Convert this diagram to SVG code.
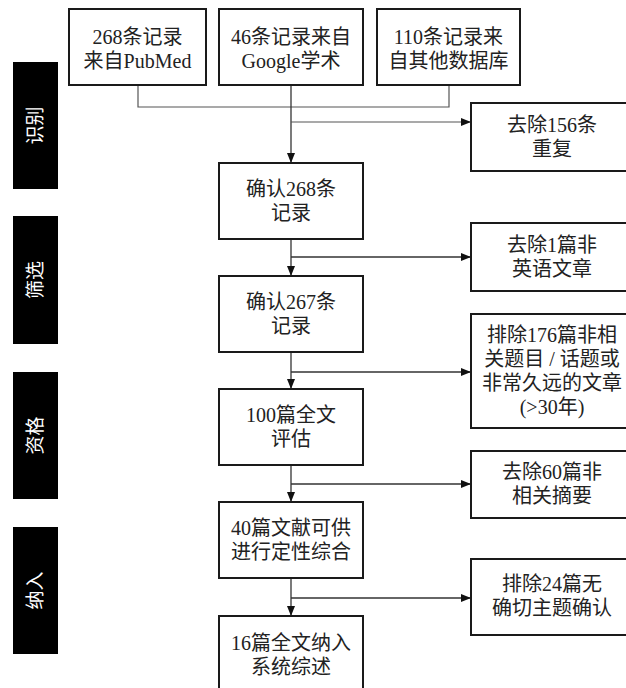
<svg xmlns="http://www.w3.org/2000/svg" width="626" height="688" viewBox="0 0 626 688">
<style>
.box{fill:#fff;stroke:#1a1a1a;stroke-width:2}
.t{font-family:"Liberation Serif","Noto Sans CJK SC",serif;font-size:20px;fill:#222;text-anchor:middle}
.bar{fill:#000}
.bt{font-family:"Noto Sans CJK SC",sans-serif;font-size:19px;fill:#fff;text-anchor:middle}
.ln{fill:none;stroke:#333;stroke-width:1.3}
.lg{fill:none;stroke:#555;stroke-width:1.2}
</style>
<defs>
<marker id="ah" viewBox="0 0 10 8" refX="10" refY="4" markerWidth="10" markerHeight="8" markerUnits="userSpaceOnUse" orient="auto">
<path d="M0,0 L10,4 L0,8 Z" fill="#111"/>
</marker>
</defs>
<rect width="626" height="688" fill="#fff"/>

<g id="stage-identify"><rect class="bar" x="13" y="62" width="45" height="127"/><text class="bt" transform="translate(35.5,125.5) rotate(-90)" dy="6.5">识别</text></g>
<g id="stage-screen"><rect class="bar" x="13" y="216" width="45" height="128"/><text class="bt" transform="translate(35.5,280) rotate(-90)" dy="6.5">筛选</text></g>
<g id="stage-eligible"><rect class="bar" x="13" y="372" width="45" height="127"/><text class="bt" transform="translate(35.5,435.5) rotate(-90)" dy="6.5">资格</text></g>
<g id="stage-include"><rect class="bar" x="13" y="527" width="45" height="127"/><text class="bt" transform="translate(35.5,590.5) rotate(-90)" dy="6.5">纳入</text></g>

<g id="connectors">
<path class="lg" d="M138,85 V107 H449 V85"/>
<path class="ln" d="M291,85 V163" marker-end="url(#ah)"/>
<path class="lg" d="M291,122 H471" marker-end="url(#ah)"/>
<path class="ln" d="M291,239 V276" marker-end="url(#ah)"/>
<path class="ln" d="M291,257 H471" marker-end="url(#ah)"/>
<path class="ln" d="M291,352 V389" marker-end="url(#ah)"/>
<path class="ln" d="M291,372 H471" marker-end="url(#ah)"/>
<path class="ln" d="M291,465 V502" marker-end="url(#ah)"/>
<path class="ln" d="M291,484 H471" marker-end="url(#ah)"/>
<path class="ln" d="M291,578 V616" marker-end="url(#ah)"/>
<path class="ln" d="M291,598 H471" marker-end="url(#ah)"/>
</g>

<g id="src-pubmed"><rect class="box" x="69" y="9" width="137" height="76"/><text class="t" x="137.5" y="44">268条记录</text><text class="t" x="137.5" y="68">来自PubMed</text></g>
<g id="src-google"><rect class="box" x="219" y="9" width="144" height="76"/><text class="t" x="291" y="44">46条记录来自</text><text class="t" x="291" y="68">Google学术</text></g>
<g id="src-other"><rect class="box" x="377" y="9" width="143" height="76"/><text class="t" x="448.5" y="44">110条记录来</text><text class="t" x="448.5" y="68">自其他数据库</text></g>

<g id="n268"><rect class="box" x="219" y="163" width="144" height="76"/><text class="t" x="291" y="196">确认268条</text><text class="t" x="291" y="220">记录</text></g>
<g id="n267"><rect class="box" x="219" y="276" width="144" height="76"/><text class="t" x="291" y="309">确认267条</text><text class="t" x="291" y="333">记录</text></g>
<g id="n100"><rect class="box" x="219" y="389" width="144" height="76"/><text class="t" x="291" y="422">100篇全文</text><text class="t" x="291" y="446">评估</text></g>
<g id="n40"><rect class="box" x="219" y="502" width="144" height="76"/><text class="t" x="291" y="535">40篇文献可供</text><text class="t" x="291" y="559">进行定性综合</text></g>
<g id="n16"><rect class="box" x="219" y="616" width="144" height="78"/><text class="t" x="291" y="650">16篇全文纳入</text><text class="t" x="291" y="674">系统综述</text></g>

<g id="ex156"><rect class="box" x="471" y="103" width="162" height="68"/><text class="t" x="552" y="132">去除156条</text><text class="t" x="552" y="156">重复</text></g>
<g id="ex1"><rect class="box" x="471" y="223" width="162" height="68"/><text class="t" x="552" y="252">去除1篇非</text><text class="t" x="552" y="276">英语文章</text></g>
<g id="ex176"><rect class="box" x="471" y="314" width="162" height="114"/><text class="t" x="552" y="342">排除176篇非相</text><text class="t" x="552" y="366">关题目 / 话题或</text><text class="t" x="552" y="390">非常久远的文章</text><text class="t" x="552" y="414">(&gt;30年)</text></g>
<g id="ex60"><rect class="box" x="471" y="451" width="162" height="67"/><text class="t" x="552" y="479">去除60篇非</text><text class="t" x="552" y="503">相关摘要</text></g>
<g id="ex24"><rect class="box" x="471" y="559" width="162" height="76"/><text class="t" x="552" y="591">排除24篇无</text><text class="t" x="552" y="615">确切主题确认</text></g>
</svg>
